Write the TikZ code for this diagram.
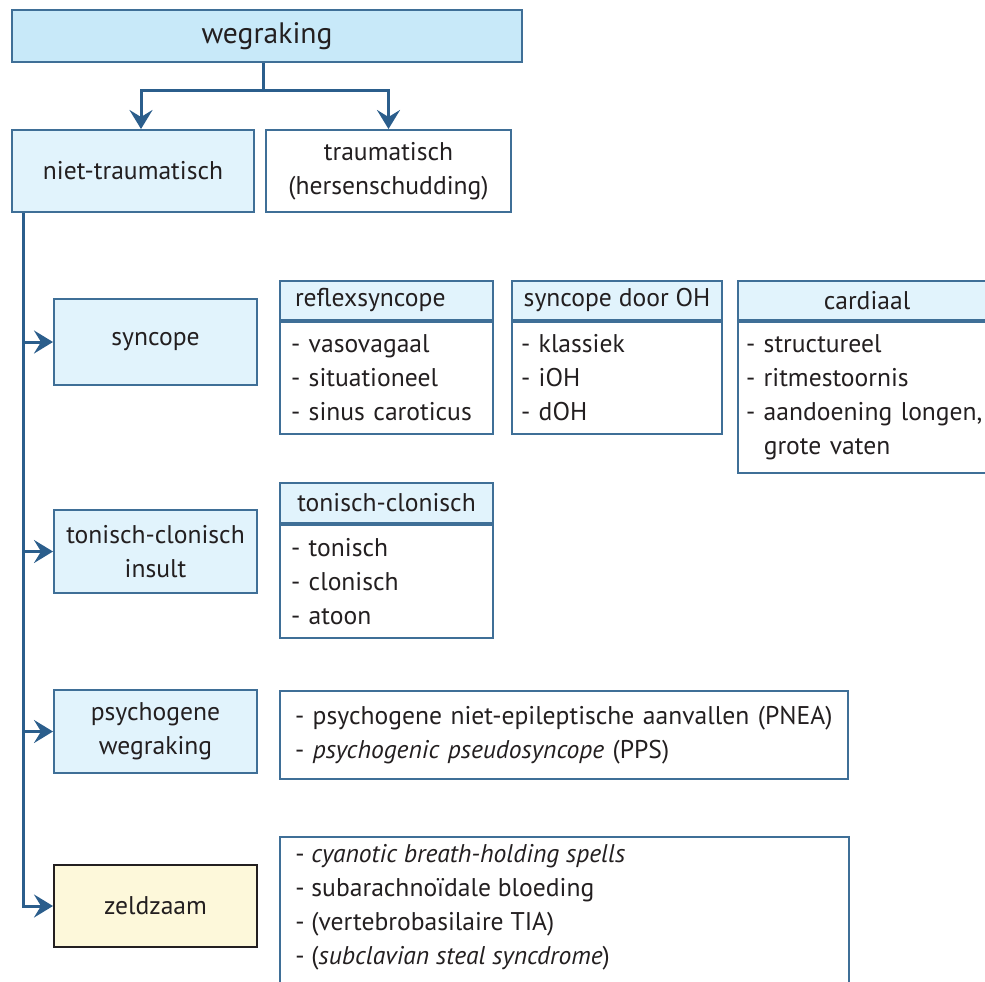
\documentclass[tikz,border=0pt]{standalone}
\usepackage{fontspec}
\setmainfont{PT Sans}
\usetikzlibrary{arrows.meta}
\definecolor{boxblue}{HTML}{3F6F97}
\definecolor{linkblue}{HTML}{2B5E8C}
\definecolor{topfill}{HTML}{C8E9F9}
\definecolor{palefill}{HTML}{E1F3FC}
\definecolor{rarefill}{HTML}{FDF8DA}
\definecolor{inktext}{HTML}{231F20}

\begin{document}
\begin{tikzpicture}[x=0.5pt, y=-0.5pt,
        every node/.style={font=\fontsize{12.8}{17}\selectfont, text=inktext},
        mainbox/.style={draw=boxblue, line width=1pt, fill=palefill, align=center, inner sep=0pt},
        headbox/.style={draw=boxblue, line width=1pt, fill=palefill, minimum height=19.5pt, inner sep=0pt, anchor=north west},
        listbox/.style={draw=boxblue, line width=1pt, fill=white, align=left, inner xsep=5.5pt, inner ysep=0pt, anchor=north west},
        link/.style={draw=linkblue, line width=1.5pt, -{Stealth[length=9.5pt,width=11.5pt,inset=3.5pt]}}]
        \useasboundingbox (0,0) rectangle (985,981);

        % Top level
        \node[mainbox, fill=topfill, minimum width=255pt, minimum height=26pt, font=\fontsize{14.8}{17}\selectfont] (top) at (267,36) {wegraking};
        \node[mainbox, minimum width=121pt, minimum height=41pt] (niet) at (133,171) {niet-traumatisch};
        \node[mainbox, fill=white, minimum width=122.5pt, minimum height=41pt] (trauma) at (388.5,171) {traumatisch\\(hersenschudding)};

        \coordinate (fork) at (263,90);
        \draw[linkblue, line width=1.5pt] ([xshift=-2pt]top.south) -- (fork);
        \draw[link] (fork) -| ([xshift=4pt]niet.north);
        \draw[link] (fork) -| (trauma.north);

        % Left column
        \node[mainbox, minimum width=101.5pt, minimum height=43pt] (syncope) at (155.5,342) {syncope};
        \node[mainbox, minimum width=101.5pt, minimum height=41.5pt] (insult) at (155.5,551.5) {tonisch-clonisch\\insult};
        \node[mainbox, minimum width=101.5pt, minimum height=41.5pt] (psycho) at (155.5,731.5) {psychogene\\wegraking};
        \node[mainbox, draw=inktext, fill=rarefill, minimum width=101.5pt, minimum height=41pt] (rare) at (155.5,906) {zeldzaam};

        \coordinate (spine) at ([xshift=6pt]niet.south west);
        \draw[link] (spine) |- (rare.west);
        \foreach \n in {syncope, insult, psycho} {
            \draw[link] (spine |- \n.west) -- (\n.west);
        }

        % Syncope types
        \node[headbox, minimum width=106.5pt, text width=91.5pt, align=left] (reflexhead) at (279,280) {reflexsyncope};
        \node[listbox, text width=95.5pt, minimum height=56pt] (reflexlist) at (reflexhead.south west) {- vasovagaal\\- situationeel\\- sinus caroticus};

        \node[headbox, minimum width=105pt] (ohhead) at (511,280) {syncope door OH};
        \node[listbox, inner xsep=4.5pt, text width=96pt, minimum height=56pt] (ohlist) at (ohhead.south west) {- klassiek\\- iOH\\- dOH};

        \node[headbox, minimum width=129pt] (cardhead) at (737,280) {cardiaal};
        \node[listbox, inner xsep=4pt, text width=121pt, minimum height=75.5pt] (cardlist) at (cardhead.south west) {- structureel\\- ritmestoornis\\- aandoening longen,\\\phantom{- }grote vaten};

        % Insult types
        \node[headbox, minimum width=106.5pt, minimum height=20pt] (tonichead) at (279,482) {tonisch-clonisch};
        \node[listbox, text width=95.5pt, minimum height=56.5pt] (toniclist) at (tonichead.south west) {- tonisch\\- clonisch\\- atoon};

        % Psychogenic
        \node[listbox, inner xsep=7.5pt, text width=269pt, minimum height=44pt] (psycholist) at (279,690) {\mbox{- psychogene niet-epileptische aanvallen (PNEA)}\\- \textit{psychogenic pseudosyncope} (PPS)};

        % Rare
        \node[listbox, minimum width=284.5pt, minimum height=85pt] (rarelist) at (279,836) {};
        \node[anchor=west, align=left, inner sep=0pt] (raretext) at (295,907) {- \textit{cyanotic breath-holding spells}\\- subarachnoïdale bloeding\\- (vertebrobasilaire TIA)\\- (\textit{subclavian steal syncdrome})};
\end{tikzpicture}
\end{document}
